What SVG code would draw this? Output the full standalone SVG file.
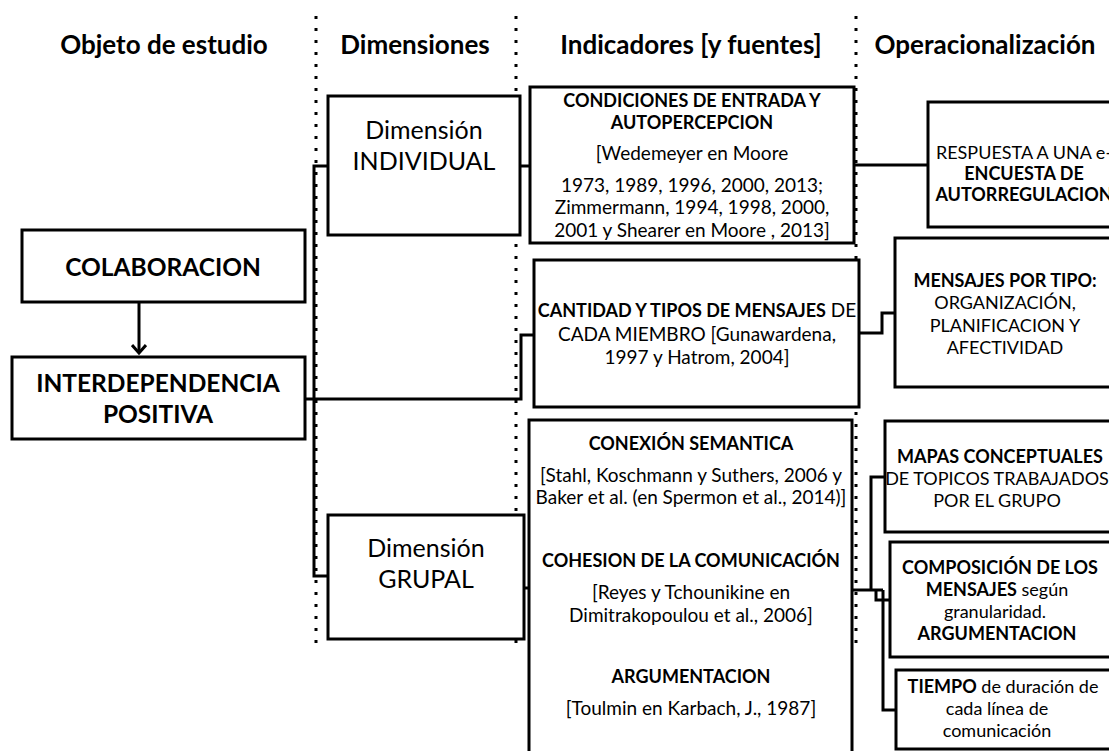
<svg xmlns="http://www.w3.org/2000/svg" width="1109" height="751" viewBox="0 0 1109 751">
<style>
.box{fill:#fff;stroke:#000;stroke-width:3}
.con{fill:none;stroke:#000;stroke-width:3}
.dot{fill:none;stroke:#000;stroke-width:3;stroke-dasharray:3 9}
text{font-family:Lato,"Open Sans","Liberation Sans",sans-serif;fill:#000;text-anchor:middle}
.h{font-size:26px;font-weight:bold}
.big{font-size:24.5px;font-weight:bold}
.dim{font-size:25px}
.b{font-size:18px;font-weight:bold}
.r{font-size:19px}
.ob{font-size:18px;font-weight:bold}
.or{font-size:18px}
</style>
<defs>
<marker id="arr" markerWidth="16" markerHeight="16" refX="12" refY="8" orient="auto" markerUnits="userSpaceOnUse" viewBox="0 0 16 16">
<path d="M4,1 L12,8 L4,15" fill="none" stroke="#000" stroke-width="3"/>
</marker>
</defs>
<rect width="1109" height="751" fill="#fff"/>
<g id="headers">
<text class="h" x="164" y="54">Objeto de estudio</text>
<text class="h" x="415" y="54">Dimensiones</text>
<text class="h" x="691" y="54">Indicadores [y fuentes]</text>
<text class="h" x="985" y="54">Operacionalización</text>
</g>
<g id="separators">
<line class="dot" x1="316" y1="16" x2="316" y2="646"/>
<line class="dot" x1="516" y1="16" x2="516" y2="646"/>
<line class="dot" x1="856" y1="16" x2="856" y2="646"/>
</g>
<g id="connectors">
<line class="con" x1="139" y1="302" x2="139" y2="353" marker-end="url(#arr)"/>
<path class="con" d="M328,166 H314 V576 H328"/>
<path class="con" d="M305,399 H521 V335 H534"/>
<path class="con" d="M520,166 H530"/>
<path class="con" d="M854,165 H928"/>
<path class="con" d="M859,333 H882 V313 H895"/>
<path class="con" d="M524,588 H529"/>
<path class="con" d="M852,590 H883"/>
<path class="con" d="M871,590 V477 H885"/>
<path class="con" d="M876,590 V600 H890"/>
<path class="con" d="M883,590 V710 H896"/>
</g>
<g id="colaboracion">
<rect class="box" x="22" y="230" width="283" height="72"/>
<text class="big" x="163" y="276">COLABORACION</text>
</g>
<g id="interdependencia">
<rect class="box" x="12" y="357" width="293" height="82"/>
<text class="big" x="158" y="392">INTERDEPENDENCIA</text>
<text class="big" x="158" y="423">POSITIVA</text>
</g>
<g id="dim-individual">
<rect class="box" x="328" y="96" width="192" height="139"/>
<text class="dim" x="424" y="139">Dimensión</text>
<text class="dim" x="424" y="170">INDIVIDUAL</text>
</g>
<g id="dim-grupal">
<rect class="box" x="328" y="515" width="196" height="124"/>
<text class="dim" x="426" y="557">Dimensión</text>
<text class="dim" x="426" y="588">GRUPAL</text>
</g>
<g id="condiciones">
<rect class="box" x="530" y="87" width="324" height="156"/>
<text class="b" x="692" y="107">CONDICIONES DE ENTRADA Y</text>
<text class="b" x="692" y="129">AUTOPERCEPCION</text>
<text class="r" x="692" y="160">[Wedemeyer en Moore</text>
<text class="r" x="692" y="192">1973, 1989, 1996, 2000, 2013;</text>
<text class="r" x="692" y="214">Zimmermann, 1994, 1998, 2000,</text>
<text class="r" x="692" y="237">2001 y Shearer en Moore , 2013]</text>
</g>
<g id="cantidad">
<rect class="box" x="534" y="260" width="325" height="147"/>
<text x="697" y="317"><tspan class="b">CANTIDAD Y TIPOS DE MENSAJES</tspan><tspan class="r"> DE</tspan></text>
<text class="r" x="697" y="341">CADA MIEMBRO [Gunawardena,</text>
<text class="r" x="697" y="364">1997 y Hatrom, 2004]</text>
</g>
<g id="conexion">
<rect class="box" x="529" y="420" width="323" height="345"/>
<text class="b" x="691" y="450">CONEXIÓN SEMANTICA</text>
<text class="r" x="691" y="482">[Stahl, Koschmann y Suthers, 2006 y</text>
<text class="r" x="691" y="504">Baker et al. (en Spermon et al., 2014)]</text>
<text class="b" x="691" y="567">COHESION DE LA COMUNICACIÓN</text>
<text class="r" x="691" y="599">[Reyes y Tchounikine en</text>
<text class="r" x="691" y="622">Dimitrakopoulou et al., 2006]</text>
<text class="b" x="691" y="683">ARGUMENTACION</text>
<text class="r" x="691" y="715">[Toulmin en Karbach, J., 1987]</text>
</g>
<g id="respuesta">
<rect class="box" x="928" y="102" width="200" height="125"/>
<text class="or" x="1024" y="159">RESPUESTA A UNA e-</text>
<text class="ob" x="1024" y="180">ENCUESTA DE</text>
<text class="ob" x="1024" y="201">AUTORREGULACION</text>
</g>
<g id="mensajes-tipo">
<rect class="box" x="895" y="238" width="230" height="149"/>
<text class="ob" x="1005" y="287">MENSAJES POR TIPO:</text>
<text class="or" x="1005" y="309">ORGANIZACIÓN,</text>
<text class="or" x="1005" y="332">PLANIFICACION Y</text>
<text class="or" x="1005" y="354">AFECTIVIDAD</text>
</g>
<g id="mapas">
<rect class="box" x="885" y="421" width="240" height="111"/>
<text class="ob" x="1000" y="463">MAPAS CONCEPTUALES</text>
<text class="or" x="997" y="485">DE TOPICOS TRABAJADOS</text>
<text class="or" x="997" y="507">POR EL GRUPO</text>
</g>
<g id="composicion">
<rect class="box" x="890" y="542" width="235" height="115"/>
<text class="ob" x="1000" y="574">COMPOSICIÓN DE LOS</text>
<text x="997" y="596"><tspan class="ob">MENSAJES</tspan><tspan class="or"> según</tspan></text>
<text class="or" x="995" y="618">granularidad.</text>
<text class="ob" x="997" y="640">ARGUMENTACION</text>
</g>
<g id="tiempo">
<rect class="box" x="896" y="670" width="230" height="79"/>
<text x="1003" y="693"><tspan class="ob">TIEMPO</tspan><tspan class="or"> de duración de</tspan></text>
<text class="or" x="997" y="715">cada línea de</text>
<text class="or" x="997" y="737">comunicación</text>
</g>
</svg>
